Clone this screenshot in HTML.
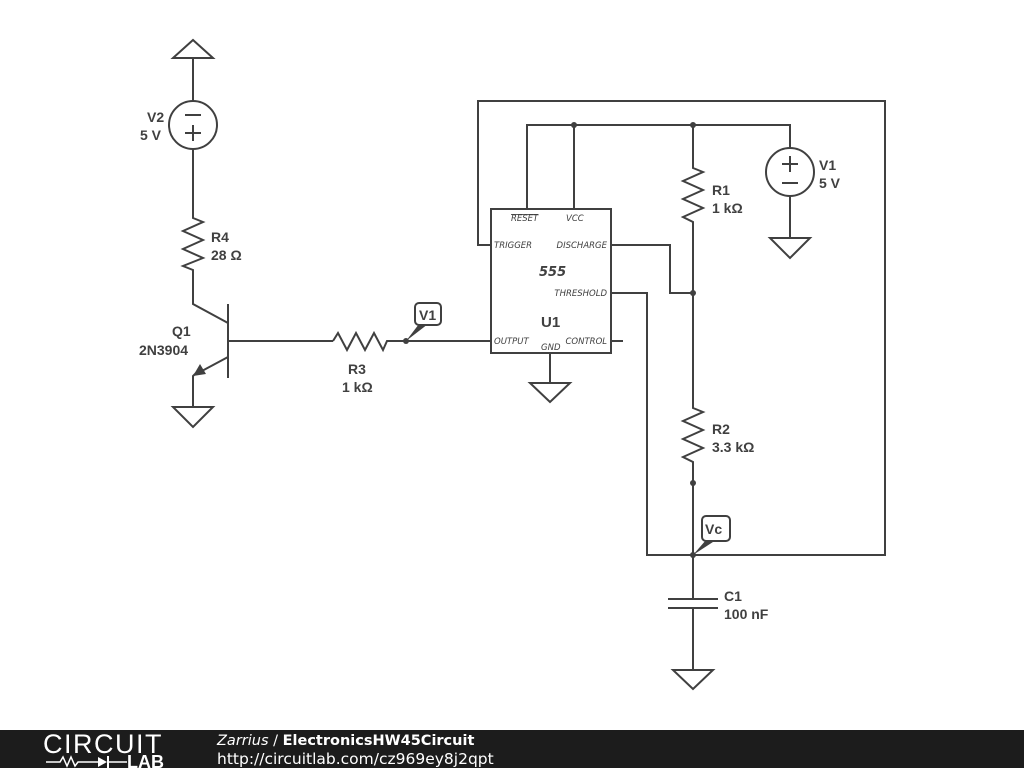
<!DOCTYPE html>
<html><head><meta charset="utf-8"><style>
body{margin:0;background:#fff;width:1024px;height:768px;overflow:hidden}
svg{display:block}
text{font-family:"Liberation Sans",sans-serif;fill:#404040}
.l{font-weight:bold;font-size:14px}
.p{font-family:"DejaVu Sans",sans-serif;font-style:italic;font-size:8.5px;fill:#404040}
</style></head><body>
<svg width="1024" height="768" viewBox="0 0 1024 768">
<g fill="none" stroke="#404040" stroke-width="2">
<polygon points="173,58 213,58 193,40"/>
<line x1="193" y1="58" x2="193" y2="101"/>
<circle cx="193" cy="125" r="24"/>
<line x1="185" y1="115" x2="201" y2="115"/>
<line x1="185" y1="133" x2="201" y2="133"/><line x1="193" y1="125" x2="193" y2="141"/>
<polyline points="193,149 193,218 203,222 183,231 203,240 183,249 203,258 183,266 193,270 193,304 228,323"/>
<line x1="228" y1="304" x2="228" y2="378"/>
<line x1="228" y1="341" x2="333" y2="341"/>
<polyline points="228,357 200,372"/>
<polyline points="197,372 193,376 193,407"/>
<polygon points="173,407 213,407 193,427"/>
<polyline points="333,341 338,333 347,350 356,333 365,350 374,333 383,350 387,341 490,341"/>
<rect x="491" y="209" width="120" height="144"/>
<polyline points="491,245 478,245 478,101 885,101 885,555 647,555 647,293 611,293"/>
<polyline points="527,209 527,125 790,125 790,148"/>
<line x1="574" y1="125" x2="574" y2="209"/>
<line x1="611" y1="341" x2="623" y2="341"/>
<line x1="550" y1="353" x2="550" y2="383"/>
<polygon points="530,383 570,383 550,402"/>
<polyline points="611,245 670,245 670,293 693,293"/>
<polyline points="693,125 693,168 703,172 683,181 703,190 683,199 703,208 683,217 693,222 693,408 703,412 683,421 703,430 683,439 703,448 683,457 693,462 693,599"/>
<circle cx="790" cy="172" r="24"/>
<line x1="782" y1="164" x2="798" y2="164"/><line x1="790" y1="156" x2="790" y2="172"/>
<line x1="782" y1="183" x2="798" y2="183"/>
<line x1="790" y1="196" x2="790" y2="238"/>
<polygon points="770,238 810,238 790,258"/>
<line x1="668" y1="599" x2="718" y2="599"/>
<line x1="668" y1="608" x2="718" y2="608"/>
<line x1="693" y1="608" x2="693" y2="670"/>
<polygon points="673,670 713,670 693,689"/>
<rect x="415" y="303" width="26" height="22" rx="4"/>
<rect x="702" y="516" width="28" height="25" rx="4"/>
</g>
<g fill="#404040">
<polygon points="193,376 200,364 206,374"/>
<circle cx="406" cy="341" r="3"/><polygon points="406,341 419,324 428,324"/>
<circle cx="574" cy="125" r="3"/><circle cx="693" cy="125" r="3"/>
<circle cx="693" cy="293" r="3"/><circle cx="693" cy="483" r="3"/>
<circle cx="693" cy="555" r="3"/><polygon points="693,555 706,540 716,540"/>
</g>
<text class="l" x="147" y="122">V2</text><text class="l" x="140" y="140">5 V</text>
<text class="l" x="211" y="242">R4</text><text class="l" x="211" y="260">28 Ω</text>
<text class="l" x="172" y="336">Q1</text><text class="l" x="139" y="355">2N3904</text>
<text class="l" x="348" y="374">R3</text><text class="l" x="342" y="392">1 kΩ</text>
<text class="l" x="419" y="320">V1</text>
<text class="l" x="712" y="195">R1</text><text class="l" x="712" y="213">1 kΩ</text>
<text class="l" x="819" y="170">V1</text><text class="l" x="819" y="188">5 V</text>
<text class="l" x="712" y="434">R2</text><text class="l" x="712" y="452">3.3 kΩ</text>
<text class="l" x="705" y="534">Vc</text>
<text class="l" x="724" y="601">C1</text><text class="l" x="724" y="619">100 nF</text>
<text class="p" x="511" y="221" text-decoration="overline">RESET</text>
<text class="p" x="566" y="221">VCC</text>
<text class="p" x="494" y="248">TRIGGER</text>
<text class="p" x="607" y="248" text-anchor="end">DISCHARGE</text>
<text class="p" x="607" y="296" text-anchor="end">THRESHOLD</text>
<text class="p" x="494" y="344">OUTPUT</text>
<text class="p" x="607" y="344" text-anchor="end">CONTROL</text>
<text class="p" x="541" y="350">GND</text>
<text style="font-family:'DejaVu Sans',sans-serif;font-style:italic;font-weight:bold;font-size:13px;fill:#404040" x="539" y="276">555</text>
<text class="l" style="font-size:15px" x="541" y="327">U1</text>
<rect x="0" y="730" width="1024" height="38" fill="#1c1c1c"/>
<text x="43" y="753" style="font-size:27px;fill:#fff;font-weight:normal;letter-spacing:1.5px">CIRCUIT</text>
<polyline points="46,762 60,762 63,757 67,766 71,757 75,766 78,762 98,762" fill="none" stroke="#fff" stroke-width="1.5"/>
<polygon points="98,757 98,767 107,762" fill="#fff"/><line x1="108" y1="756" x2="108" y2="768" stroke="#fff" stroke-width="2"/>
<line x1="108" y1="762" x2="127" y2="762" stroke="#fff" stroke-width="1.5"/>
<text x="127" y="768" style="font-size:18px;fill:#fff;font-weight:bold">LAB</text>
<text x="217" y="745" style="font-family:'DejaVu Sans',sans-serif;font-size:14.5px;fill:#fff"><tspan font-style="italic">Zarrius</tspan> / <tspan font-weight="bold">ElectronicsHW45Circuit</tspan></text>
<text x="217" y="764" style="font-family:'DejaVu Sans',sans-serif;font-size:15.5px;fill:#fff">http://circuitlab.com/cz969ey8j2qpt</text>
</svg>
</body></html>
